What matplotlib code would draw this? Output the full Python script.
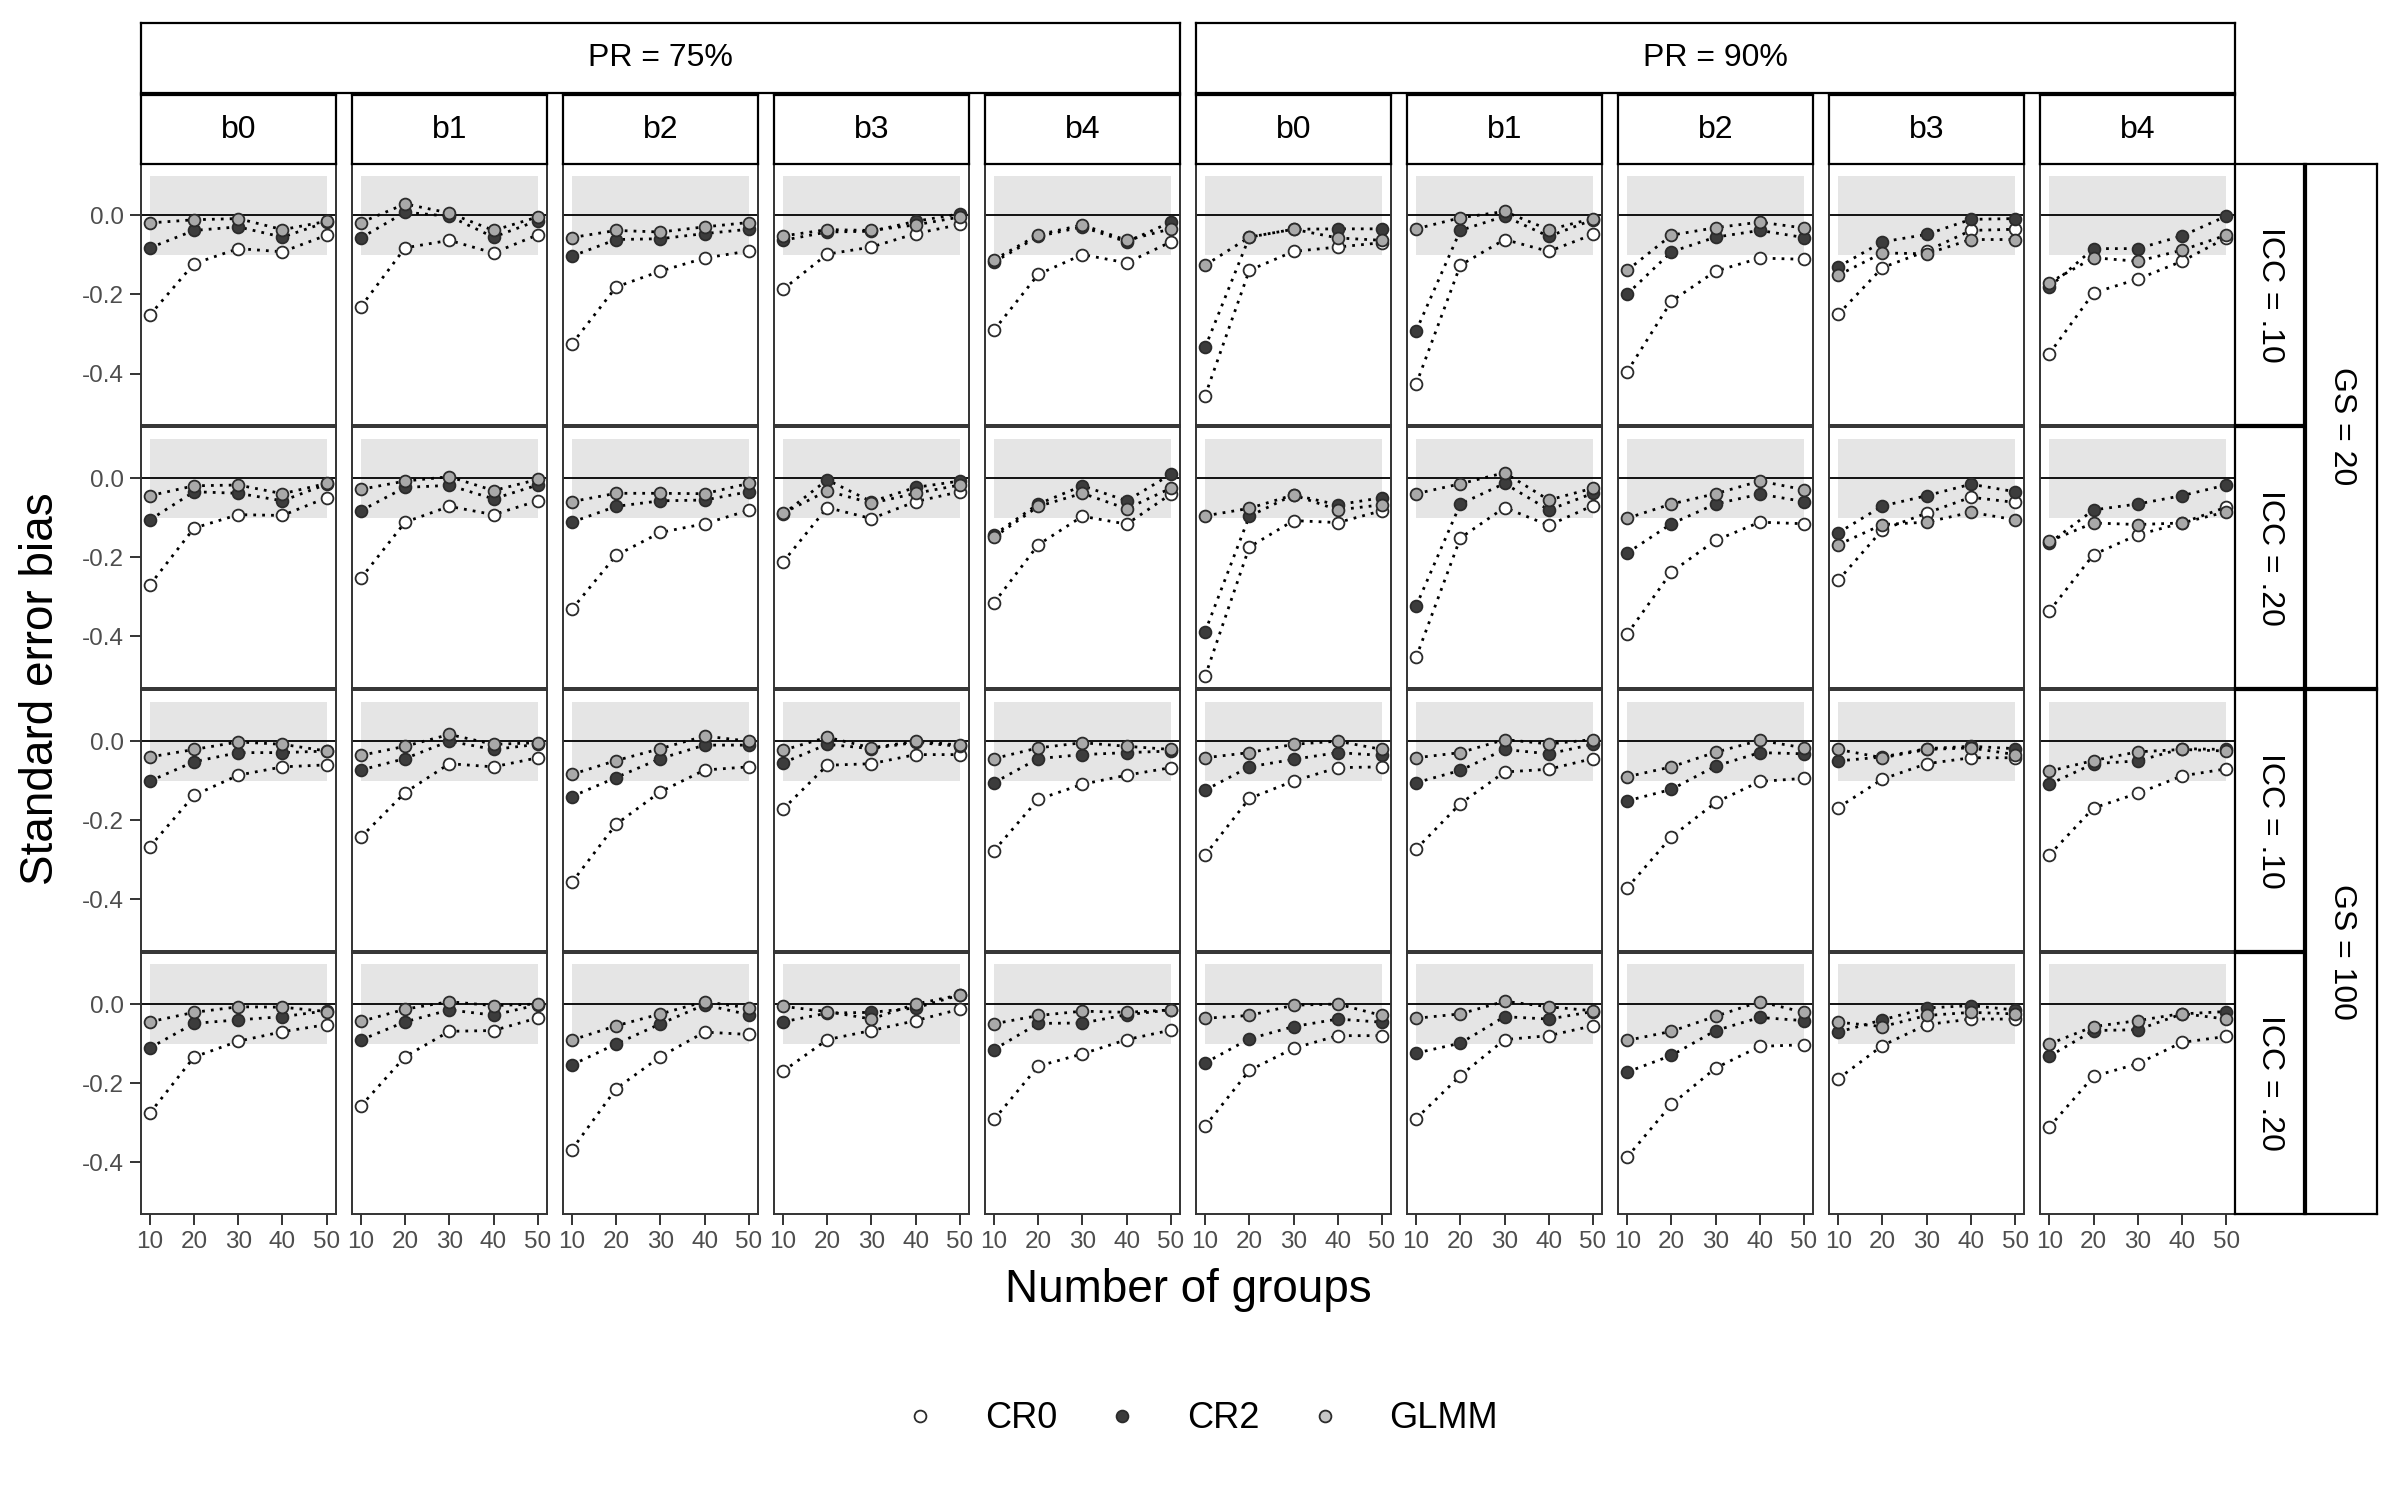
import numpy as np
import matplotlib
matplotlib.use('Agg')
import matplotlib.pyplot as plt
from matplotlib.lines import Line2D

plt.rcParams['font.family'] = ['Liberation Sans', 'DejaVu Sans']
plt.rcParams['axes.unicode_minus'] = False

# ---- data ----
groups = [10, 20, 30, 40, 50]
coefs = ['b0', 'b1', 'b2', 'b3', 'b4']
pr_labels = ['PR = 75%', 'PR = 90%']
icc_labels = ['ICC = .10', 'ICC = .20', 'ICC = .10', 'ICC = .20']
gs_labels = ['GS = 20', 'GS = 100']
methods = ['CR0', 'CR2', 'GLMM']

# each row: 10 panels (PR 75% b0..b4, PR 90% b0..b4), 5 values each
cr0_gs20_icc10 = [
    [-0.252, -0.122, -0.084, -0.092, -0.050],
    [-0.231, -0.082, -0.063, -0.095, -0.049],
    [-0.325, -0.181, -0.141, -0.108, -0.090],
    [-0.187, -0.098, -0.080, -0.046, -0.023],
    [-0.290, -0.149, -0.099, -0.120, -0.067],
    [-0.456, -0.139, -0.091, -0.080, -0.069],
    [-0.427, -0.126, -0.061, -0.091, -0.048],
    [-0.395, -0.217, -0.141, -0.108, -0.111],
    [-0.250, -0.132, -0.090, -0.038, -0.035],
    [-0.350, -0.196, -0.161, -0.116, -0.057],
]
cr2_gs20_icc10 = [
    [-0.082, -0.038, -0.029, -0.055, -0.017],
    [-0.057, 0.008, -0.002, -0.055, -0.013],
    [-0.103, -0.061, -0.059, -0.046, -0.035],
    [-0.063, -0.042, -0.040, -0.015, 0.004],
    [-0.118, -0.053, -0.029, -0.067, -0.017],
    [-0.334, -0.055, -0.035, -0.034, -0.034],
    [-0.292, -0.038, -0.002, -0.053, -0.011],
    [-0.199, -0.092, -0.055, -0.038, -0.056],
    [-0.130, -0.067, -0.048, -0.010, -0.008],
    [-0.181, -0.084, -0.084, -0.052, -0.002],
]
glmm_gs20_icc10 = [
    [-0.019, -0.011, -0.008, -0.036, -0.015],
    [-0.018, 0.029, 0.006, -0.038, -0.004],
    [-0.056, -0.038, -0.042, -0.029, -0.018],
    [-0.052, -0.036, -0.038, -0.024, -0.004],
    [-0.112, -0.049, -0.024, -0.063, -0.034],
    [-0.126, -0.055, -0.035, -0.057, -0.063],
    [-0.034, -0.006, 0.010, -0.036, -0.008],
    [-0.139, -0.050, -0.031, -0.017, -0.032],
    [-0.151, -0.095, -0.097, -0.061, -0.061],
    [-0.170, -0.107, -0.116, -0.088, -0.050],
]

cr0_gs20_icc20 = [
    [-0.270, -0.126, -0.092, -0.094, -0.049],
    [-0.253, -0.111, -0.071, -0.092, -0.057],
    [-0.331, -0.195, -0.137, -0.115, -0.081],
    [-0.212, -0.074, -0.102, -0.059, -0.034],
    [-0.315, -0.168, -0.096, -0.116, -0.040],
    [-0.501, -0.174, -0.107, -0.112, -0.082],
    [-0.453, -0.151, -0.074, -0.119, -0.069],
    [-0.394, -0.237, -0.157, -0.111, -0.115],
    [-0.258, -0.130, -0.088, -0.048, -0.061],
    [-0.336, -0.193, -0.143, -0.113, -0.073],
]
cr2_gs20_icc20 = [
    [-0.105, -0.034, -0.038, -0.057, -0.015],
    [-0.082, -0.023, -0.018, -0.052, -0.017],
    [-0.111, -0.071, -0.057, -0.055, -0.034],
    [-0.091, -0.004, -0.059, -0.023, -0.007],
    [-0.143, -0.065, -0.019, -0.057, 0.010],
    [-0.388, -0.096, -0.042, -0.067, -0.049],
    [-0.323, -0.065, -0.013, -0.080, -0.038],
    [-0.189, -0.115, -0.065, -0.040, -0.059],
    [-0.138, -0.070, -0.044, -0.015, -0.034],
    [-0.164, -0.080, -0.065, -0.044, -0.017],
]
glmm_gs20_icc20 = [
    [-0.044, -0.019, -0.017, -0.039, -0.013],
    [-0.028, -0.007, 0.004, -0.031, -0.003],
    [-0.059, -0.038, -0.038, -0.039, -0.013],
    [-0.088, -0.032, -0.063, -0.038, -0.017],
    [-0.149, -0.071, -0.038, -0.077, -0.025],
    [-0.095, -0.076, -0.042, -0.080, -0.067],
    [-0.039, -0.014, 0.014, -0.055, -0.025],
    [-0.101, -0.065, -0.039, -0.007, -0.029],
    [-0.168, -0.117, -0.111, -0.086, -0.105],
    [-0.159, -0.113, -0.117, -0.113, -0.085],
]

cr0_gs100_icc10 = [
    [-0.267, -0.137, -0.086, -0.065, -0.060],
    [-0.243, -0.130, -0.057, -0.065, -0.042],
    [-0.357, -0.210, -0.128, -0.073, -0.065],
    [-0.172, -0.061, -0.057, -0.034, -0.034],
    [-0.277, -0.147, -0.109, -0.086, -0.067],
    [-0.288, -0.145, -0.101, -0.067, -0.065],
    [-0.273, -0.158, -0.078, -0.071, -0.044],
    [-0.371, -0.242, -0.155, -0.102, -0.094],
    [-0.168, -0.096, -0.057, -0.042, -0.042],
    [-0.288, -0.169, -0.132, -0.088, -0.070],
]
cr2_gs100_icc10 = [
    [-0.101, -0.052, -0.029, -0.029, -0.025],
    [-0.073, -0.044, 0.000, -0.021, -0.008],
    [-0.140, -0.092, -0.044, -0.010, -0.010],
    [-0.055, -0.008, -0.019, -0.003, -0.013],
    [-0.105, -0.044, -0.034, -0.029, -0.025],
    [-0.124, -0.065, -0.046, -0.029, -0.036],
    [-0.105, -0.074, -0.021, -0.032, -0.008],
    [-0.151, -0.122, -0.063, -0.029, -0.032],
    [-0.050, -0.040, -0.019, -0.013, -0.019],
    [-0.109, -0.057, -0.050, -0.019, -0.021],
]
glmm_gs100_icc10 = [
    [-0.040, -0.021, -0.002, -0.008, -0.025],
    [-0.036, -0.013, 0.017, -0.008, -0.004],
    [-0.084, -0.049, -0.019, 0.013, 0.000],
    [-0.023, 0.010, -0.017, 0.000, -0.010],
    [-0.044, -0.017, -0.004, -0.013, -0.021],
    [-0.042, -0.029, -0.008, 0.000, -0.021],
    [-0.042, -0.029, 0.004, -0.007, 0.004],
    [-0.090, -0.065, -0.028, 0.002, -0.017],
    [-0.021, -0.042, -0.021, -0.017, -0.034],
    [-0.076, -0.049, -0.027, -0.021, -0.025],
]

cr0_gs100_icc20 = [
    [-0.276, -0.134, -0.094, -0.070, -0.052],
    [-0.258, -0.133, -0.069, -0.067, -0.035],
    [-0.368, -0.214, -0.133, -0.071, -0.077],
    [-0.170, -0.090, -0.067, -0.042, -0.013],
    [-0.292, -0.157, -0.126, -0.090, -0.066],
    [-0.309, -0.168, -0.112, -0.080, -0.080],
    [-0.290, -0.181, -0.090, -0.080, -0.055],
    [-0.387, -0.254, -0.162, -0.107, -0.103],
    [-0.189, -0.105, -0.052, -0.038, -0.038],
    [-0.311, -0.183, -0.151, -0.097, -0.082],
]
cr2_gs100_icc20 = [
    [-0.111, -0.049, -0.040, -0.032, -0.017],
    [-0.091, -0.045, -0.015, -0.028, -0.002],
    [-0.154, -0.101, -0.050, -0.002, -0.027],
    [-0.045, -0.023, -0.021, -0.010, 0.023],
    [-0.115, -0.049, -0.048, -0.027, -0.015],
    [-0.149, -0.088, -0.057, -0.038, -0.046],
    [-0.124, -0.099, -0.032, -0.038, -0.019],
    [-0.172, -0.130, -0.067, -0.034, -0.042],
    [-0.071, -0.040, -0.010, -0.004, -0.015],
    [-0.132, -0.067, -0.065, -0.025, -0.019],
]
glmm_gs100_icc20 = [
    [-0.045, -0.021, -0.007, -0.008, -0.019],
    [-0.044, -0.013, 0.006, -0.004, 0.000],
    [-0.091, -0.055, -0.025, 0.006, -0.010],
    [-0.006, -0.019, -0.038, 0.000, 0.023],
    [-0.050, -0.029, -0.018, -0.021, -0.015],
    [-0.036, -0.029, -0.003, 0.000, -0.029],
    [-0.036, -0.025, 0.007, -0.007, -0.017],
    [-0.092, -0.069, -0.031, 0.006, -0.021],
    [-0.046, -0.057, -0.029, -0.021, -0.025],
    [-0.101, -0.057, -0.042, -0.024, -0.038],
]

rows = [
    (cr0_gs20_icc10, cr2_gs20_icc10, glmm_gs20_icc10),
    (cr0_gs20_icc20, cr2_gs20_icc20, glmm_gs20_icc20),
    (cr0_gs100_icc10, cr2_gs100_icc10, glmm_gs100_icc10),
    (cr0_gs100_icc20, cr2_gs100_icc20, glmm_gs100_icc20),
]

# ---- styles ----
fills = {'CR0': 'white', 'CR2': '#3c3c3c', 'GLMM': '#a9a9a9'}
edge = '#2b2b2b'
msize = 8.5
border = '#333333'

W, H = 2400, 1500
fig = plt.figure(figsize=(24, 15), dpi=100)


def rect(l, t, w, h):
    # pixel box (top-left origin) -> figure fraction
    return [l / W, 1 - (t + h) / H, w / W, h / H]


left0, right0 = 141, 2235
top0, bot0 = 164, 1214
gap_x, gap_y = 16.5, 1.5
pw = (right0 - left0 - 9 * gap_x) / 10
ph = (bot0 - top0 - 3 * gap_y) / 4


def strip(box, text, rot=0, size=23):
    ax = fig.add_axes(box)
    ax.set_facecolor('white')
    ax.set_xticks([])
    ax.set_yticks([])
    for s in ax.spines.values():
        s.set_color('black')
        s.set_linewidth(1.6)
    ax.text(0.5, 0.5, text, ha='center', va='center', rotation=rot,
            fontsize=size, transform=ax.transAxes)
    return ax


for r in range(4):
    top = top0 + r * (ph + gap_y)
    for c in range(10):
        left = left0 + c * (pw + gap_x)
        ax = fig.add_axes(rect(left, top, pw, ph))
        ax.axhspan(-0.1, 0.1, xmin=(10 - 8) / 44, xmax=(50 - 8) / 44,
                   color='#e5e5e5', lw=0, zorder=0)
        ax.axhline(0, color='black', lw=1.3, zorder=1)
        for m, vals in zip(methods, rows[r]):
            ax.plot(groups, vals[c], color='black', lw=2.0,
                    dashes=(1, 2.2), zorder=2)
        for m, vals in zip(methods, rows[r]):
            ax.plot(groups, vals[c], ls='none', marker='o', ms=msize,
                    mfc=fills[m], mec=edge, mew=1.3, zorder=3)
        ax.set_xlim(8, 52)
        ax.set_ylim(-0.531, 0.130)
        ax.set_yticks([0.0, -0.2, -0.4])
        ax.set_xticks(groups)
        for s in ax.spines.values():
            s.set_color(border)
            s.set_linewidth(1.4)
        ax.tick_params(length=8, width=1.4, color=border,
                       labelsize=17.5, labelcolor='#4d4d4d', pad=4)
        if c == 0:
            ax.set_yticklabels(['0.0', '-0.2', '-0.4'])
        else:
            ax.tick_params(axis='y', left=False, labelleft=False)
        if r == 3:
            ax.set_xticklabels([str(g) for g in groups])
        else:
            ax.tick_params(axis='x', bottom=False, labelbottom=False)

        if r == 0:
            strip(rect(left, 95, pw, 69), coefs[c % 5])
    # ICC strips on the right
    strip(rect(2235, top, 69, ph), icc_labels[r], rot=-90)

# PR strips on top
span5 = 5 * pw + 4 * gap_x
for k in range(2):
    strip(rect(left0 + k * (span5 + gap_x), 23, span5, 70), pr_labels[k])

# GS strips
for k in range(2):
    t = top0 + 2 * k * (ph + gap_y)
    strip(rect(2306, t, 71, 2 * ph + gap_y), gs_labels[k], rot=-90)

fig.text((left0 + right0) / 2 / W, 1 - 1290 / H, 'Number of groups',
         ha='center', va='center', fontsize=33)
fig.text(41 / W, 1 - (top0 + bot0) / 2 / H, 'Standard error bias',
         ha='center', va='center', rotation=90, fontsize=33)

handles = [Line2D([], [], ls='none', marker='o', ms=msize, mfc=fills[m],
                  mec=edge, mew=1.3) for m in methods]
legend_fills = {'CR0': 'white', 'CR2': '#3c3c3c', 'GLMM': '#c8c8c8'}
for h, m in zip(handles, methods):
    h.set_markerfacecolor(legend_fills[m])
fig.legend(handles, methods, loc='center', bbox_to_anchor=(0.5, 1 - 1419 / H),
           ncol=3, frameon=False, fontsize=26, handlelength=1.0,
           handletextpad=1.3, columnspacing=1.3)

fig.savefig('out.png', dpi=100, facecolor='white')
